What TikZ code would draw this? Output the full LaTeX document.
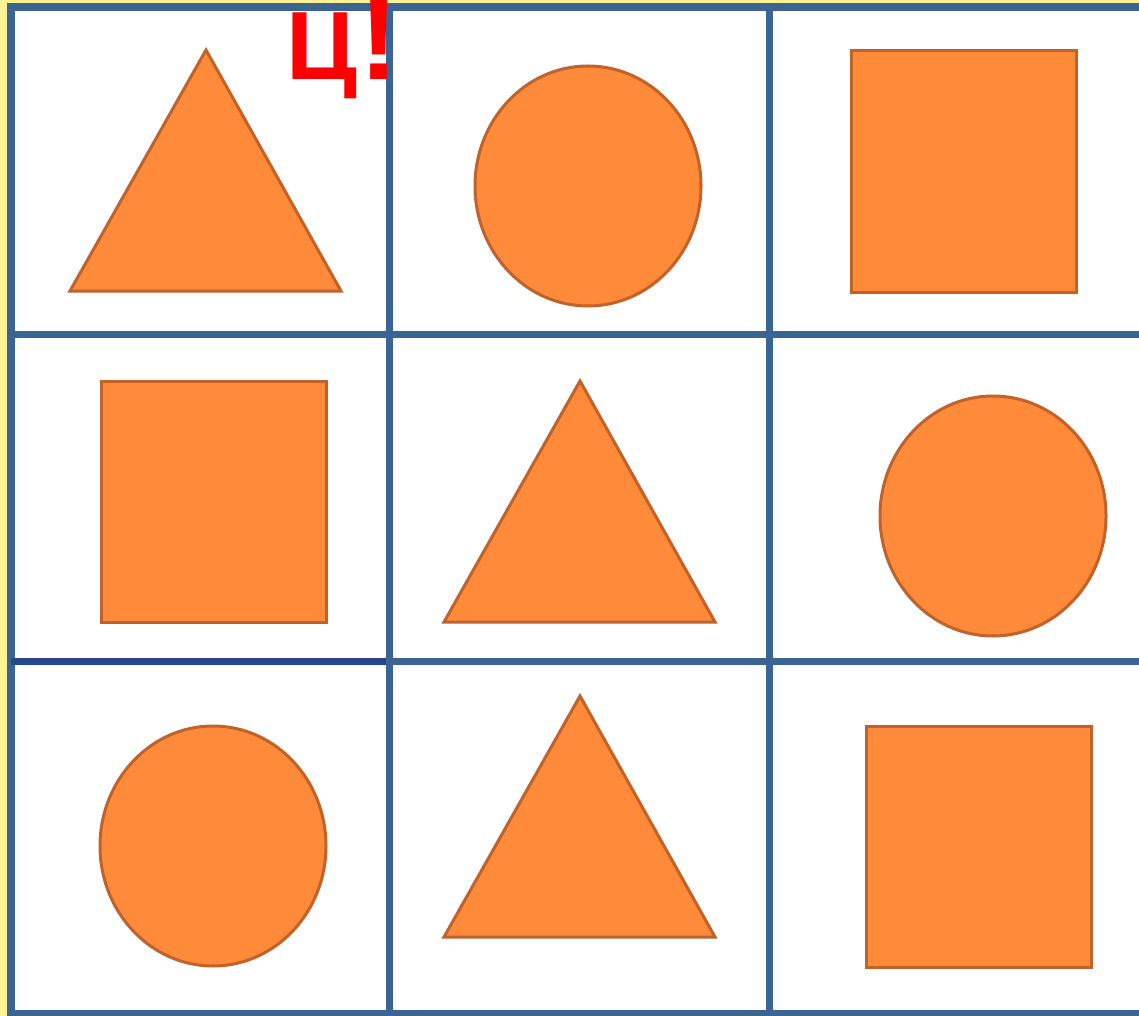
\documentclass[tikz,border=0pt]{standalone}
\usepackage{fontspec}
\newfontfamily\cyrfont{Liberation Sans}
\definecolor{shapefill}{HTML}{FF8A3A}
\definecolor{shapeline}{HTML}{C0622A}
\definecolor{gridc}{HTML}{3B6496}
\definecolor{griddark}{HTML}{25488A}
\definecolor{edgec}{HTML}{FFF396}
\definecolor{markc}{HTML}{FF0000}

\begin{document}
\begin{tikzpicture}[x=1pt,y=-1pt,
                    figure/.style={fill=shapefill, draw=shapeline, line width=3pt},
                    gridline/.style={draw=gridc, line width=7pt},
                    every node/.style={inner sep=0pt, text=markc}]
  \useasboundingbox (0,0) rectangle (1139,1016);
  \clip (0,0) rectangle (1139,1016);
  \fill[edgec] (0,0) rectangle (1139,1016);
  \fill[white] (7,3) rectangle (1139,1016);
  % triangles: apex
  \foreach \ax/\ay in {206/50, 580/381, 580/696}
    {\draw[figure] (\ax,\ay) -- ++(135,241) -- ++(-271,0) -- cycle;}
  % ellipses: centre
  \foreach \cx/\cy in {588/186, 993/516, 213/846}
    {\draw[figure] (\cx,\cy) ellipse [x radius=113, y radius=120];}
  % squares: top left corner
  \foreach \sx/\sy in {851/51, 101/381, 866/726}
    {\draw[figure] (\sx,\sy) rectangle ++(225,241);}
  % grid
  \draw[gridline, line width=8pt] (11,3) -- (11,1016);
  \draw[gridline, line width=8pt] (7,7) -- (1139,7);
  \foreach \gx in {389.5, 769.5}
    {\draw[gridline] (\gx,7) -- (\gx,1013);}
  \foreach \gy in {334, 661}
    {\draw[gridline] (11,\gy) -- (1139,\gy);}
  \draw[draw=griddark, line width=7pt] (11,661) -- (386,661);
  \draw[gridline, line width=6pt] (7,1013) -- (1139,1013);
  % red mark
  \node[anchor=base west] (letter) at (286,80)
    {\cyrfont\bfseries\fontsize{97}{97}\selectfont Ц};
  \node[anchor=base] (bang) at (379,80)
    {\cyrfont\bfseries\fontsize{118}{118}\selectfont !};
\end{tikzpicture}
\end{document}
